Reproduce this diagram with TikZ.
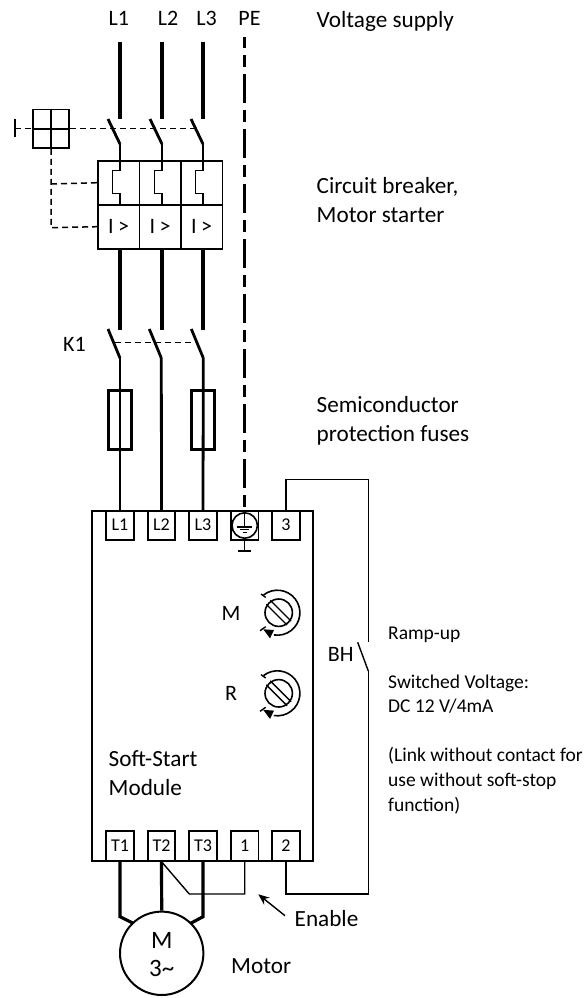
\documentclass[tikz,border=0pt]{standalone}
\usepackage{fontspec}
\setmainfont{Carlito}
\usetikzlibrary{calc, arrows.meta}

\begin{document}
\begin{tikzpicture}[x=1pt, y=-1pt]
	\tikzstyle{heavy}=[line width=3.2pt]
	\tikzstyle{medium}=[line width=2.8pt]
	\tikzstyle{thin}=[line width=1.4pt]
	\tikzstyle{link}=[line width=1.5pt, dash pattern=on 6pt off 4pt]
	\tikzstyle{earth}=[line width=3pt, dash pattern=on 29pt off 7pt on 12pt off 7pt, dash phase=-37pt]
	\tikzstyle{caption}=[font=\fontsize{23.2}{28}\selectfont, anchor=base west, inner sep=0pt]
	\tikzstyle{tag}=[font=\fontsize{22}{26}\selectfont, anchor=base, inner sep=0pt]
	\tikzstyle{note}=[font=\fontsize{19.5}{23}\selectfont, anchor=base west, inner sep=0pt]
	\tikzstyle{terminal}=[
	draw,
	line width=1.8pt,
	rectangle,
	minimum width=27.5pt,
	minimum height=29.5pt,
	inner sep=0pt
	]
	\tikzstyle{termtext}=[font=\fontsize{18}{20}\selectfont, anchor=base, inner sep=0pt]
	\tikzstyle{breaker}=[
	draw,
	line width=1.6pt,
	rectangle,
	minimum width=41.5pt,
	minimum height=44pt,
	inner sep=0pt,
	font=\fontsize{22}{24}\selectfont
	]
	\tikzstyle{fuse}=[draw, medium, rectangle, minimum width=23pt, minimum height=58.5pt, inner sep=0pt]
	\useasboundingbox (0,0) rectangle (585,998);
	%
	\node[tag] (supL1) at (118.8,26) {L1};
	\node[tag] (supL2) at (168,26) {L2};
	\node[tag] (supL3) at (206.5,26) {L3};
	\node[tag] (supPE) at (249.5,26) {PE};
	\node[caption] (voltage) at (316.5,28) {Voltage supply};
	\node[caption] (cbA) at (316.5,193.3) {Circuit breaker,};
	\node[caption] (cbB) at (316.5,222.7) {Motor starter};
	\node[caption] (fuA) at (316.5,412.3) {Semiconductor};
	\node[caption] (fuB) at (316.5,441.7) {protection fuses};
	\node[tag] (kone) at (74.5,351.7) {K1};
	\node[caption] (softA) at (108.5,766) {Soft-Start};
	\node[caption] (softB) at (108.5,795.7) {Module};
	\node[tag] (labM) at (231,620) {M};
	\node[tag] (labR) at (231,700.7) {R};
	\node[tag] (labBH) at (340.7,661.7) {BH};
	\node[note] (ramp) at (388,639) {Ramp-up};
	\node[note] (swA) at (388,688) {Switched Voltage:};
	\node[note] (swB) at (388,712.7) {DC 12 V/4mA};
	\node[note] (lkA) at (388,761.7) {(Link without contact for};
	\node[note] (lkB) at (388,786.7) {use without soft-stop};
	\node[note] (lkC) at (388,811.7) {function)};
	\node[caption] (enable) at (294.5,926) {Enable};
	\node[caption] (motor) at (231,973.3) {Motor};
	%
	% module body and its terminals
	\draw[line width=1.8pt] (92.3,510.7) rectangle (313.3,860.7);
	\foreach \name/\xpos in {L1/120, L2/161.5, L3/203, PEt/244.7, three/286}
		\node[terminal, fill=white] (\name) at (\xpos,525.5) {};
	\foreach \name/\xpos in {T1/120, T2/161.5, T3/203, one/244.7, two/286}
		\node[terminal, fill=white] (\name) at (\xpos,846) {};
	\foreach \name/\txt in {L1/L1, L2/L2, L3/L3, three/3}
		\node[termtext] (txt\name) at ($(\name.center)+(0,5.2)$) {\txt};
	\foreach \name/\txt in {T1/T1, T2/T2, T3/T3, one/1, two/2}
		\node[termtext] (txt\name) at ($(\name.center)+(0,5.7)$) {\txt};
	%
	% breaker block
	\foreach \name/\xpos in {A/118.6, B/160.2, C/201.7} {
		\node[breaker] (trip\name) at (\xpos,182.7) {};
		\node[breaker] (over\name) at (\xpos,226.7) {I\hspace{4.5pt}>};
	}
	\foreach \sw/\xpos in {A/120, B/162, C/203} {
		\coordinate (in\sw) at (\xpos,42);
		\coordinate (open\sw) at (\xpos,119);
		\coordinate (blade\sw) at (\xpos-12,119);
		\coordinate (hinge\sw) at (\xpos,144);
		\draw[heavy] (in\sw) -- (open\sw);
		\draw[medium] (blade\sw) -- (hinge\sw);
		\draw[medium] (hinge\sw) -- (\xpos,161);
		\draw[thin] (\xpos,161) -- (\xpos,170.7) -- (\xpos-7.3,170.7) -- (\xpos-7.3,193.3) -- (\xpos,193.3) -- (\xpos,205);
		\draw[heavy] (\xpos,248.7) -- (\xpos,330);
	}
	%
	% handle
	\node[draw, line width=1.6pt, minimum width=36.5pt, minimum height=38.5pt, inner sep=0pt] (handle) at (51,128.7) {};
	\draw[line width=1.6pt] (handle.north) -- (handle.south);
	\draw[line width=1.6pt] (handle.west) -- (handle.east);
	\coordinate (grip) at (14.7,128.7);
	\draw[line width=1.6pt] (14.7,118.7) -- (14.7,137.3);
	\draw[link] (grip) -- (handle.west);
	\draw[link] (handle.east) -- (195,128.7);
	\draw[link] (handle.south) -- (51,227.7) -- (overA.west);
	\draw[link] (51,184) -- (tripA.west);
	%
	% contactor and fuses
	\foreach \sw/\xpos in {A/120, B/161.3, C/203.3} {
		\coordinate (kblade\sw) at (\xpos-12,329);
		\coordinate (khinge\sw) at (\xpos,358);
		\draw[medium] (kblade\sw) -- (khinge\sw);
	}
	\draw[link] (115,342.7) -- (195,342.7);
	\node[fuse] (fuseA) at (120,420) {};
	\node[fuse] (fuseC) at (203.3,420) {};
	\draw[medium] (khingeA) -- (L1.north);
	\draw[medium] (khingeB) -- (L2.north);
	\draw[medium] (khingeC) -- (L3.north);
	\coordinate (peTop) at (244.7,37);
	\draw[earth] (peTop) -- (244.7,511);
	%
	% earth symbol
	\node[draw, circle, line width=1.6pt, minimum size=25.4pt, inner sep=0pt, fill=white] (pecircle) at (244.7,525.5) {};
	\draw[thin] (pecircle.north) -- (244.7,527);
	\draw[thin] (237.2,527) -- (252.2,527);
	\draw[thin] (240.2,529.7) -- (249.2,529.7);
	\draw[thin] (242.7,532.3) -- (246.7,532.3);
	\draw[thin] (pecircle.south) -- (244.7,551) (238,551) -- (251.3,551);
	%
	% setpoint dials
	\foreach \nm/\cy in {M/612.7, R/693.3} {
		\node[draw, circle, line width=1.6pt, minimum size=27.4pt, inner sep=0pt] (dial\nm) at (278.7,\cy) {};
		\draw[thin] (278.7-12.4,\cy-8.4) -- (278.7+8.4,\cy+12.4);
		\draw[thin] (278.7-8.4,\cy-12.4) -- (278.7+12.4,\cy+8.4);
		\draw[line width=1.6pt] ($(277.4,\cy)+(-128:22.5)$) arc[start angle=-128, end angle=99, radius=22.5];
		\draw[thin] (261,\cy-18.7) -- (265.7,\cy-15.3);
		\draw[thin] (260,\cy+18) -- (265.7,\cy+14);
		\fill (263.3,\cy+16.6) -- (274,\cy+17.3) -- (270,\cy+25.6) -- cycle;
	}
	%
	% ramp-up contact wiring
	\coordinate (bhOpen) at (368.3,642.3);
	\coordinate (bhBlade) at (357.7,642.3);
	\coordinate (bhHinge) at (368.3,671);
	\draw[thin] (three.north) -- (286,479.3) -- (368.3,479.3) -- (bhOpen);
	\draw[thin] (bhBlade) -- (bhHinge);
	\draw[thin] (bhHinge) -- (368.3,894) -- (286,894) -- (two.south);
	\draw[thin] (one.south) -- (244.7,894) -- (189.3,894) -- (T2.south);
	\coordinate (enableTail) at (285,915.7);
	\coordinate (enableTip) at (258.3,894.3);
	\draw[thin, -{Stealth[length=11pt,width=9pt]}] (enableTail) -- (enableTip);
	%
	% motor
	\node[draw, circle, line width=2pt, minimum size=83.4pt, inner sep=0pt] (mot) at (161.7,953.3) {};
	\node[font=\fontsize{25}{28}\selectfont, anchor=base, inner sep=0pt] (motM) at (161.7,948.3) {M};
	\node[font=\fontsize{25}{28}\selectfont, anchor=base, inner sep=0pt] (mot3) at (161.7,976.7) {3\char`\~};
	\draw[heavy] (T1.south) -- (120,916.7) -- (133.3,923.3);
	\draw[heavy] (T2.south) -- (mot.north);
	\draw[heavy] (T3.south) -- (203,916.7) -- (190.7,923.3);
\end{tikzpicture}
\end{document}
